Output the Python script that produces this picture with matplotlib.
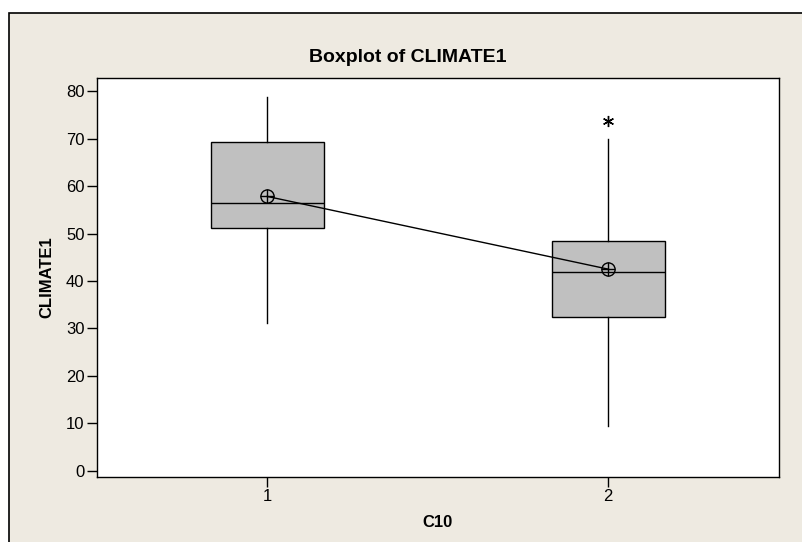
import matplotlib.pyplot as plt
from matplotlib.patches import Rectangle

groups = [1, 2]
group_labels = ['1', '2']
whisker_low = [31.1, 9.5]
q1 = [51.2, 32.5]
medians = [56.4, 42.0]
q3 = [69.2, 48.4]
whisker_high = [78.7, 70.0]
means = [57.8, 42.5]
outliers = [[], [73.7]]

plt.rcParams['font.family'] = ['Liberation Sans Narrow', 'Liberation Sans', 'DejaVu Sans']

bg = '#EEEAE1'
fig = plt.figure(figsize=(8.02, 5.42), dpi=100, facecolor='white')
# framed beige panel behind the plot
fig.patches.append(Rectangle((9 / 802, -0.1), 1.2, 1 - 13 / 542 + 0.1,
                             transform=fig.transFigure, facecolor=bg,
                             edgecolor='black', linewidth=1.2, zorder=-10))

ax = fig.add_axes([97 / 802, 1 - 476.5 / 542, (778.5 - 97) / 802, (476.5 - 78) / 542])
ax.set_zorder(5)
ax.set_facecolor('white')

stats = []
for i in range(len(groups)):
    stats.append(dict(med=medians[i], q1=q1[i], q3=q3[i],
                      whislo=whisker_low[i], whishi=whisker_high[i],
                      fliers=outliers[i], label=group_labels[i]))

ax.bxp(stats, positions=groups, widths=0.332, patch_artist=True,
       showcaps=False,
       boxprops=dict(facecolor='#C0C0C0', edgecolor='black', linewidth=1),
       medianprops=dict(color='black', linewidth=1),
       whiskerprops=dict(color='black', linewidth=1),
       flierprops=dict(marker=(6, 2, 0), markersize=8, markeredgecolor='black',
                       markeredgewidth=1, linestyle='none'))

# mean connect line with circled-plus symbols
ax.plot(groups, means, color='black', linewidth=1, zorder=4)
ax.plot(groups, means, linestyle='none', marker='o', markersize=9.5,
        markerfacecolor='none', markeredgecolor='black', markeredgewidth=1, zorder=5)
ax.plot(groups, means, linestyle='none', marker='+', markersize=9.5,
        markeredgecolor='black', markeredgewidth=1, zorder=5)

ax.set_xlim(0.5, 2.5)
ax.set_ylim(-1.16, 82.74)
ax.set_yticks(range(0, 81, 10))
ax.set_xticks(groups)
ax.set_xticklabels(group_labels)
ax.tick_params(axis='both', direction='out', length=7, width=1, labelsize=12, pad=2)
for s in ax.spines.values():
    s.set_linewidth(1)

ax.set_xlabel('C10', fontsize=12, fontweight='bold', labelpad=8)
ax.set_ylabel('CLIMATE1', fontsize=12, fontweight='bold', labelpad=8)
fig.text(408 / 802, 1 - 58 / 542, 'Boxplot of CLIMATE1', ha='center', va='center',
         fontsize=14, fontweight='bold')

fig.savefig('out.png', dpi=100, facecolor=fig.get_facecolor())
